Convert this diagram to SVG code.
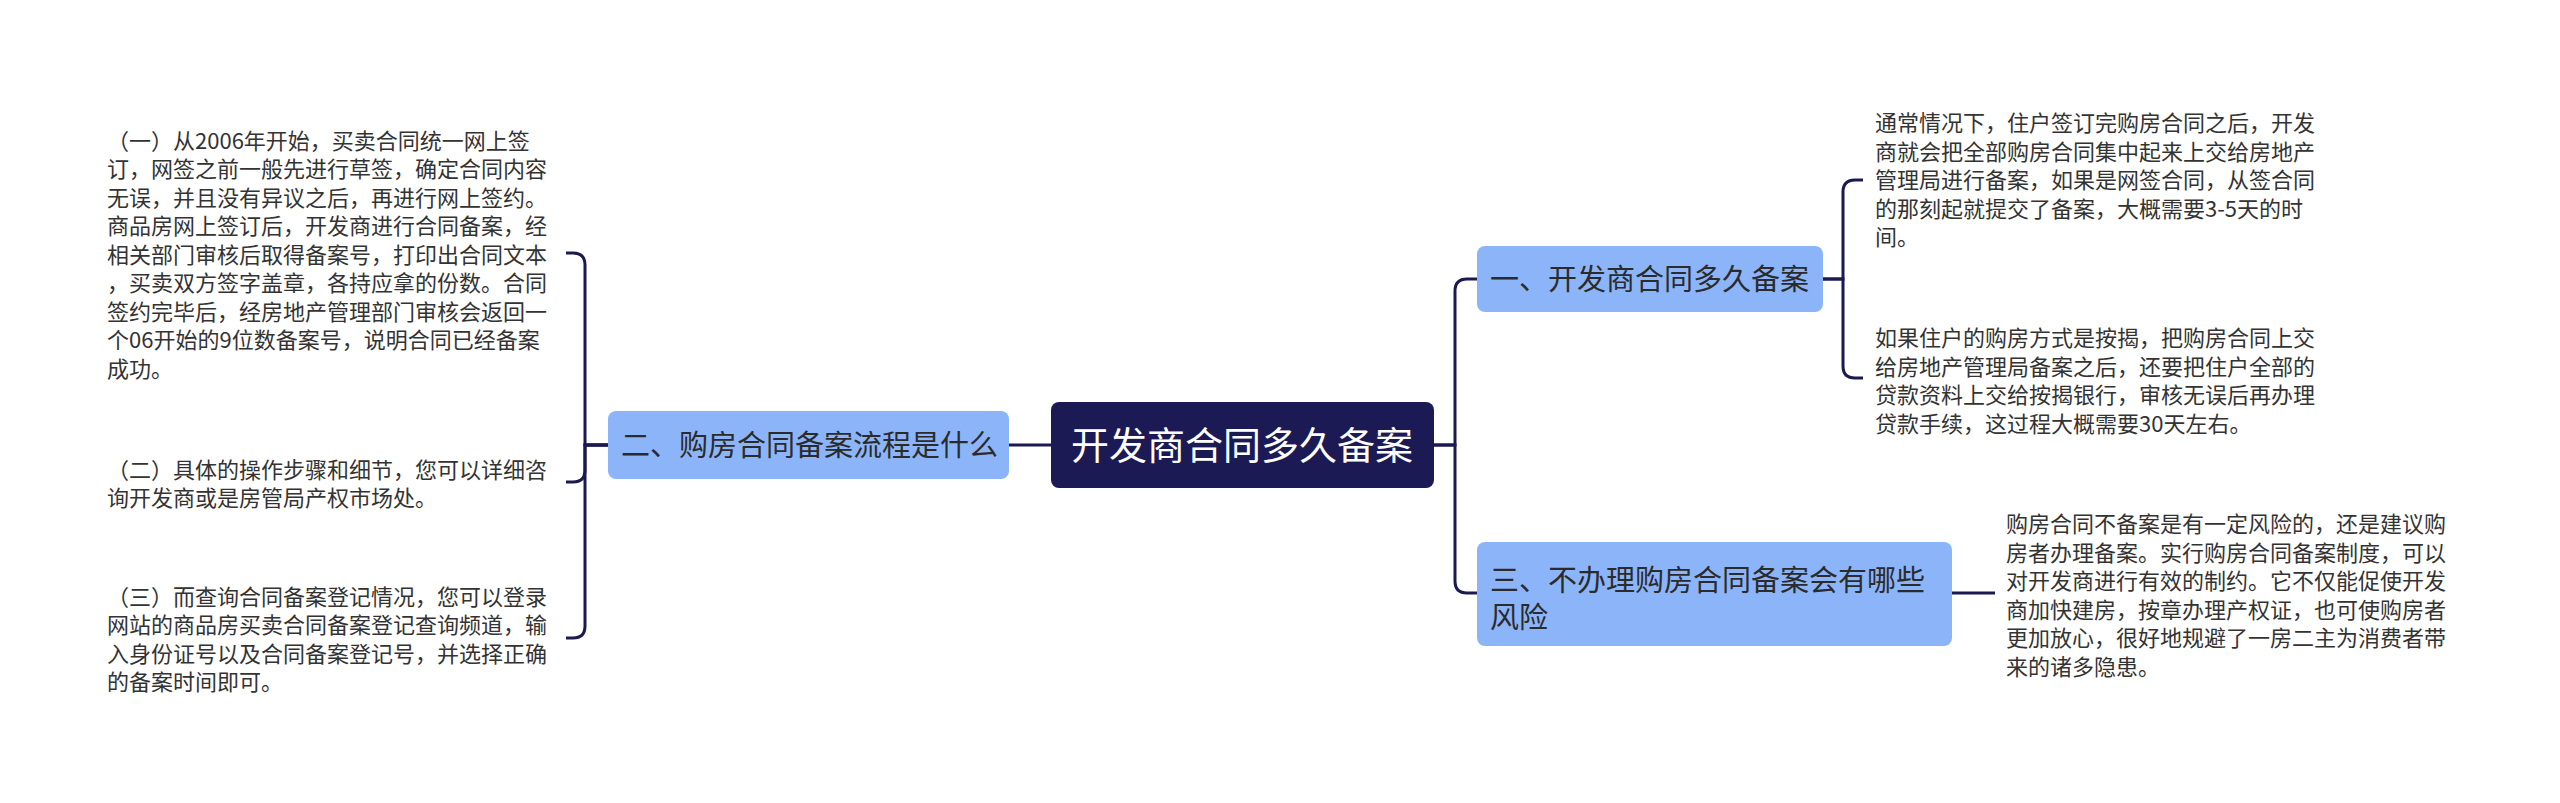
<svg xmlns="http://www.w3.org/2000/svg" width="2560" height="803" viewBox="0 0 2560 803">
<style>
.bg{fill:#ffffff}
.line{fill:none;stroke:#1b1a50;stroke-width:3}
.root{fill:#1b1a55}
.branch{fill:#8cb5f9}
.rt{font-family:"Noto Sans CJK SC","Liberation Sans",sans-serif;font-size:38px;fill:#ffffff}
.bt{font-family:"Noto Sans CJK SC","Liberation Sans",sans-serif;font-size:29px;fill:#2b2b2b}
.tx{font-family:"Noto Sans CJK SC","Liberation Sans",sans-serif;font-size:22px;fill:#333333}
</style>
<rect class="bg" x="0" y="0" width="2560" height="803"/>
<g id="connectors">
<path class="line" d="M1051 445 H1009"/>
<path class="line" d="M1434 445 H1455 V291 Q1455 279 1467 279 H1477"/>
<path class="line" d="M1434 445 H1455 V581 Q1455 593 1467 593 H1477"/>
<path class="line" d="M1823 279 H1843 V192 Q1843 180 1855 180 H1863"/>
<path class="line" d="M1823 279 H1843 V366 Q1843 378 1855 378 H1863"/>
<path class="line" d="M1952 593 H1995"/>
<path class="line" d="M608 445 H585 V265 Q585 253 573 253 H566"/>
<path class="line" d="M608 445 H585 V470 Q585 482 573 482 H566"/>
<path class="line" d="M608 445 H585 V626 Q585 638 573 638 H566"/>
</g>
<g id="root">
<rect class="root" x="1051" y="402" width="383" height="86" rx="8"/>
<text class="rt" x="1071" y="459">开发商合同多久备案</text>
</g>
<g id="branch1">
<rect class="branch" x="1477" y="246" width="346" height="66" rx="8"/>
<text class="bt" x="1490" y="290">一、开发商合同多久备案</text>
</g>
<g id="branch2">
<rect class="branch" x="608" y="411" width="401" height="68" rx="8"/>
<text class="bt" x="621" y="456">二、购房合同备案流程是什么</text>
</g>
<g id="branch3">
<rect class="branch" x="1477" y="542" width="475" height="104" rx="8"/>
<text class="bt" x="1490" y="591">三、不办理购房合同备案会有哪些</text>
<text class="bt" x="1490" y="628">风险</text>
</g>
<g id="leaf1a">
<text class="tx" x="1875" y="131">通常情况下，住户签订完购房合同之后，开发</text>
<text class="tx" x="1875" y="160">商就会把全部购房合同集中起来上交给房地产</text>
<text class="tx" x="1875" y="188">管理局进行备案，如果是网签合同，从签合同</text>
<text class="tx" x="1875" y="217">的那刻起就提交了备案，大概需要3-5天的时</text>
<text class="tx" x="1875" y="245">间。</text>
</g>
<g id="leaf1b">
<text class="tx" x="1875" y="346">如果住户的购房方式是按揭，把购房合同上交</text>
<text class="tx" x="1875" y="375">给房地产管理局备案之后，还要把住户全部的</text>
<text class="tx" x="1875" y="403">贷款资料上交给按揭银行，审核无误后再办理</text>
<text class="tx" x="1875" y="432">贷款手续，这过程大概需要30天左右。</text>
</g>
<g id="leaf2a">
<text class="tx" x="107" y="149">（一）从2006年开始，买卖合同统一网上签</text>
<text class="tx" x="107" y="177">订，网签之前一般先进行草签，确定合同内容</text>
<text class="tx" x="107" y="206">无误，并且没有异议之后，再进行网上签约。</text>
<text class="tx" x="107" y="234">商品房网上签订后，开发商进行合同备案，经</text>
<text class="tx" x="107" y="263">相关部门审核后取得备案号，打印出合同文本</text>
<text class="tx" x="107" y="291">，买卖双方签字盖章，各持应拿的份数。合同</text>
<text class="tx" x="107" y="320">签约完毕后，经房地产管理部门审核会返回一</text>
<text class="tx" x="107" y="348">个06开始的9位数备案号，说明合同已经备案</text>
<text class="tx" x="107" y="377">成功。</text>
</g>
<g id="leaf2b">
<text class="tx" x="107" y="478">（二）具体的操作步骤和细节，您可以详细咨</text>
<text class="tx" x="107" y="506">询开发商或是房管局产权市场处。</text>
</g>
<g id="leaf2c">
<text class="tx" x="107" y="605">（三）而查询合同备案登记情况，您可以登录</text>
<text class="tx" x="107" y="633">网站的商品房买卖合同备案登记查询频道，输</text>
<text class="tx" x="107" y="662">入身份证号以及合同备案登记号，并选择正确</text>
<text class="tx" x="107" y="690">的备案时间即可。</text>
</g>
<g id="leaf3">
<text class="tx" x="2006" y="532">购房合同不备案是有一定风险的，还是建议购</text>
<text class="tx" x="2006" y="561">房者办理备案。实行购房合同备案制度，可以</text>
<text class="tx" x="2006" y="589">对开发商进行有效的制约。它不仅能促使开发</text>
<text class="tx" x="2006" y="618">商加快建房，按章办理产权证，也可使购房者</text>
<text class="tx" x="2006" y="646">更加放心，很好地规避了一房二主为消费者带</text>
<text class="tx" x="2006" y="675">来的诸多隐患。</text>
</g>
</svg>
